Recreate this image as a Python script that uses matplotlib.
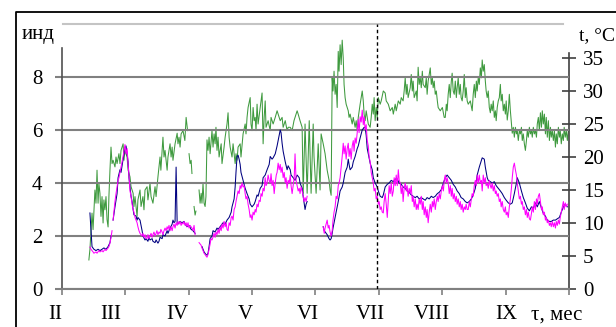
import numpy as np
import matplotlib
matplotlib.use("Agg")
import matplotlib.pyplot as plt
from matplotlib.lines import Line2D
import matplotlib.transforms as mtransforms

plt.rcParams["font.family"] = ["Liberation Serif", "DejaVu Serif"]

# === Data: days counted from 1 Feb, months shown as equal intervals ===
months = ["II", "III", "IV", "V", "VI", "VII", "VIII", "IX"]
month_len = 30.375  # axis spans Feb..Oct as 8 equal steps
n_months = 8
dashed_day = 151.0

# temperature, °C (right axis)
green_a = [(12.9, 4.4), (13.4, 6), (14.4, 11.5), (14.9, 9), (15.8, 15), (16.3, 13), (16.8, 18), (17.3, 13),
           (17.7, 16), (18.2, 14.5), (18.7, 11), (19.2, 14), (19.7, 10), (20.1, 13.5), (20.6, 12), (21.1, 14),
           (21.6, 10.5), (22.1, 9.4), (22.5, 14), (23.0, 18), (23.5, 21.5), (24.0, 19), (24.5, 19.5), (25.4, 18.5),
           (25.9, 20), (26.4, 19), (27.3, 20.5), (27.8, 19), (28.3, 21), (29.3, 22), (29.7, 19.5), (30.2, 21),
           (31.2, 20), (31.7, 18), (32.6, 17), (33.1, 15.5), (34.1, 14.5), (34.5, 12.5), (35.0, 14), (36.0, 11),
           (36.4, 13.5), (37.4, 15), (37.9, 12.5), (38.8, 14), (39.3, 12), (39.8, 15), (40.8, 15.5), (41.2, 13.5),
           (42.2, 16), (42.7, 14), (43.6, 13), (44.6, 15.5), (45.1, 14), (46.0, 17), (47.0, 20), (47.4, 18),
           (48.4, 23), (48.9, 20), (49.4, 21), (50.4, 18), (50.8, 20), (51.8, 22), (52.3, 20), (52.8, 21.5),
           (53.2, 19.5), (54.2, 22), (55.2, 23.6), (55.6, 22), (56.1, 23), (56.6, 21.5), (57.1, 23.5), (58.0, 24),
           (58.9, 22.5), (59.5, 26), (60.2, 24)]
green_b = [(60.9, 20.5), (61.4, 19), (61.9, 19.5), (62.3, 17.5)]
green_c = [(63.3, 12.5), (63.8, 11.2), (64.2, 11.8)]
green_d = [(65.7, 15), (66.2, 13), (66.7, 14.5), (67.1, 13), (67.6, 16), (68.1, 13), (68.6, 12.5), (69.0, 14),
           (69.5, 22.6), (70.0, 21), (70.5, 23), (71.0, 20.5), (71.4, 22), (71.9, 24), (72.4, 21.5), (72.9, 23.5),
           (73.4, 22), (73.8, 24.5), (74.3, 21), (74.8, 23), (75.3, 20), (76.3, 22), (76.7, 19), (77.7, 21.5),
           (78.2, 23), (79.1, 25), (79.6, 26.7), (80.1, 23), (80.6, 21.5), (81.5, 20), (82.0, 22), (83.0, 19),
           (83.4, 20.5), (83.9, 19.5), (84.4, 21.5), (85.4, 22), (85.8, 20), (86.8, 23.5), (87.8, 25), (88.2, 23.5),
           (88.7, 26), (89.2, 27.5), (90.2, 29), (90.6, 25), (91.1, 24), (91.6, 27.5), (92.1, 25.5), (92.6, 26),
           (93.0, 24), (93.5, 28), (94.0, 25), (95.0, 27.5), (95.4, 28.5), (95.9, 29.7), (96.4, 22), (96.9, 26),
           (97.4, 28.5), (97.8, 24.5), (98.8, 25.5), (99.8, 24), (100.2, 26), (101.2, 25), (102.2, 26), (103.1, 27),
           (103.6, 26.5), (104.6, 25.5), (105.5, 26), (106.0, 24.5), (107.0, 25.5), (107.9, 24), (108.4, 24.5),
           (109.4, 24.5), (110.3, 24), (111.2, 25.5), (112.2, 26.5), (112.7, 27), (113.2, 26.5), (114.1, 25.5),
           (115.1, 24.5), (115.6, 14.5), (116.5, 25), (117.5, 14.5), (118.5, 25.5), (119.4, 14.5), (120.4, 25),
           (120.8, 20), (121.8, 14.5), (122.8, 22), (123.7, 15), (124.2, 23.5), (125.2, 22), (126.1, 20.5),
           (127.1, 18), (128.0, 16.5), (128.5, 15), (129.0, 14.2), (129.5, 32), (129.9, 30), (130.4, 33),
           (130.9, 29.5), (131.4, 31), (131.9, 27.5), (132.4, 36), (132.8, 33), (133.3, 37), (133.8, 34),
           (134.3, 37.7), (134.8, 35), (135.2, 31), (135.7, 29), (136.2, 28), (137.2, 27), (137.6, 26),
           (138.1, 26.5), (139.1, 25), (139.6, 26), (140.5, 24.5), (141.0, 25.5), (141.5, 24), (142.0, 26),
           (142.9, 28), (143.9, 30), (144.4, 28.5), (144.8, 26.5), (145.3, 25.5), (145.8, 27), (146.8, 25),
           (147.7, 24.5), (148.2, 26), (148.7, 28), (149.2, 26.5), (149.6, 29), (150.1, 25.5), (150.6, 27.5),
           (151.1, 26), (151.6, 29), (152.5, 28), (153.0, 28.5), (154.0, 30), (154.9, 29.7), (155.4, 28.5),
           (156.4, 28), (157.3, 27), (158.3, 27.5), (158.8, 26.5), (159.7, 28), (160.2, 27), (161.2, 28.5),
           (162.1, 28), (162.6, 29), (163.5, 28.5), (164.0, 30), (164.5, 32), (165.0, 29.5), (165.4, 31),
           (165.9, 29), (166.9, 30.5), (167.4, 32.5), (167.9, 30), (168.3, 31.5), (168.8, 29), (169.8, 30),
           (170.2, 28.5), (170.7, 33.6), (171.2, 31), (171.7, 32), (172.2, 30.5), (172.7, 33), (173.1, 31),
           (174.1, 30.5), (174.6, 32), (175.0, 29.5), (175.5, 31.5), (176.5, 33.5), (177.0, 31), (177.5, 32),
           (177.9, 30.5), (178.4, 31.5), (178.9, 29.5), (179.4, 30), (179.9, 28.5), (180.3, 27.5), (181.3, 27),
           (182.3, 27.5), (183.2, 26), (183.7, 26), (184.2, 28), (184.6, 27), (185.1, 29.5), (185.6, 31),
           (186.1, 29), (186.6, 31.5), (187.0, 32.7), (187.5, 30), (188.0, 29.5), (188.5, 31.5), (189.0, 29),
           (189.4, 30.5), (189.9, 32), (190.4, 29.5), (190.9, 31), (191.3, 29), (191.8, 28.5), (192.3, 30),
           (192.8, 32.5), (193.3, 29), (193.7, 30.5), (194.2, 28.5), (194.7, 28), (195.7, 28.5), (196.6, 27),
           (197.1, 29.5), (197.6, 31), (198.1, 29), (198.6, 31.5), (199.0, 30), (199.5, 32), (200.0, 31),
           (200.5, 33.5), (201.0, 32), (201.4, 34.7), (201.9, 33), (202.4, 34), (202.9, 31.5), (203.3, 30),
           (203.8, 29), (204.3, 30), (204.8, 27.5), (205.3, 26.7), (205.7, 28), (206.2, 27), (206.7, 28.5),
           (207.2, 26), (207.7, 27), (208.1, 25.5), (208.6, 27.5), (209.1, 28.5), (209.6, 29), (210.1, 31),
           (210.5, 28.5), (211.0, 29.5), (211.5, 27), (212.0, 28), (212.5, 26.5), (212.9, 28.5), (213.4, 25.6),
           (213.9, 27), (214.4, 29.5), (214.9, 27), (215.4, 25), (215.8, 23.6), (216.3, 24.5), (216.8, 23),
           (217.3, 24.5), (217.8, 23.5), (218.2, 24), (218.7, 22.5), (219.2, 24), (219.7, 23.5), (220.2, 24.5),
           (220.6, 22.5), (221.1, 23.5), (221.6, 22), (222.1, 21), (222.6, 22.5), (223.0, 24), (223.5, 23),
           (224.0, 24.5), (224.5, 23.5), (225.0, 24), (225.4, 23), (225.9, 24.5), (226.4, 23.5), (226.9, 24),
           (227.4, 23), (227.8, 25), (228.3, 26), (228.8, 24), (229.3, 26.7), (229.8, 24.5), (230.2, 27),
           (230.7, 25), (231.2, 26.5), (231.7, 23.5), (232.1, 26), (232.6, 23), (233.1, 25.5), (233.6, 22.5),
           (234.1, 24.5), (234.5, 23), (235.0, 24), (235.5, 22.5), (236.0, 24), (236.5, 21.5), (236.9, 23.5),
           (237.4, 22), (237.9, 24.5), (238.4, 23), (238.8, 24), (239.3, 22), (239.8, 23.5), (240.3, 22.5),
           (240.7, 24.5), (241.2, 23), (241.7, 24), (242.2, 22.5), (242.7, 24)]

# index, first series (navy, left axis)
navy_a = [(13.4, 2.87), (13.9, 2.2), (14.4, 1.6), (15.3, 1.5), (16.3, 1.45), (17.3, 1.5), (18.2, 1.45),
          (19.2, 1.5), (20.1, 1.55), (21.1, 1.5), (22.1, 1.6), (23.0, 1.75), (23.5, 2.0)]
navy_b = [(24.5, 2.6), (25.4, 3.1), (26.4, 3.6), (26.9, 4.2), (27.8, 4.5), (28.3, 4.4), (29.3, 4.9), (29.7, 5.1),
          (30.2, 5.3), (30.7, 5.4), (31.2, 5.1), (31.7, 4.8), (32.1, 4.2), (32.6, 3.85), (33.1, 3.5), (33.6, 3.3),
          (34.1, 3.0), (34.5, 2.8), (35.5, 2.75), (36.0, 2.6), (36.4, 2.7), (37.4, 2.6), (37.9, 2.4), (38.4, 2.2),
          (38.8, 2.0), (39.8, 1.85), (40.3, 1.9), (41.2, 1.8), (41.7, 1.95), (42.2, 1.85), (43.2, 1.9), (43.6, 1.8),
          (44.6, 1.75), (45.1, 1.85), (46.0, 1.73), (46.5, 1.8), (47.0, 1.95), (48.0, 1.9), (48.4, 2.05),
          (49.4, 2.0), (50.4, 2.2), (50.8, 2.1), (51.8, 2.3), (52.8, 2.45), (53.2, 2.6), (53.7, 2.5), (54.2, 2.55),
          (54.7, 4.6), (55.2, 2.5), (55.6, 2.45), (56.6, 2.55), (57.5, 2.5), (58.5, 2.55), (59.0, 2.45),
          (59.9, 2.35), (60.9, 2.4), (61.9, 2.25), (62.8, 2.2), (63.8, 2.1)]
navy_c = [(67.1, 1.6), (68.1, 1.4), (69.0, 1.3), (69.5, 1.28), (70.0, 1.35), (70.5, 1.6), (71.0, 1.9), (71.9, 2.0),
          (72.4, 2.2), (73.4, 2.15), (74.3, 2.3), (74.8, 2.25), (75.8, 2.35), (76.7, 2.45), (77.2, 2.5),
          (78.2, 2.45), (79.1, 2.6), (80.1, 2.7), (81.1, 2.9), (81.5, 3.1), (82.5, 3.4), (83.0, 3.85), (83.4, 4.4),
          (83.9, 5.0), (84.4, 5.05), (84.9, 4.9), (85.4, 4.7), (85.8, 4.4), (86.8, 4.1), (87.8, 3.8), (88.7, 3.6),
          (89.7, 3.4), (90.2, 3.2), (91.1, 3.1), (92.1, 3.2), (92.6, 3.3), (93.5, 3.55), (94.0, 3.5), (95.0, 3.8),
          (95.9, 3.9), (96.4, 4.2), (97.4, 4.3), (98.3, 4.5), (99.3, 4.7), (99.8, 5.0), (100.7, 4.9), (101.2, 4.95),
          (102.2, 5.1), (103.1, 5.4), (104.1, 5.8), (104.6, 6.0), (105.0, 5.9), (105.5, 5.5), (106.0, 5.2),
          (107.0, 4.8), (107.9, 4.5), (108.4, 4.65), (109.4, 4.5), (109.8, 4.3), (110.8, 4.2), (111.7, 4.1),
          (112.7, 4.3), (113.7, 4.2), (114.1, 4.0), (115.1, 3.8), (115.6, 3.5), (116.5, 3.0), (117.0, 3.2),
          (117.5, 3.3)]
navy_d = [(125.2, 2.35), (125.7, 2.2), (126.6, 2.1), (127.1, 2.05), (128.0, 1.9), (128.5, 1.85), (129.0, 1.9),
          (129.5, 2.1), (129.9, 2.3), (130.9, 2.7), (131.9, 3.1), (132.4, 3.3), (133.3, 3.7), (134.3, 3.85),
          (134.8, 4.0), (135.7, 4.4), (136.7, 4.6), (137.2, 4.9), (137.6, 4.7), (138.1, 4.5), (139.1, 4.6),
          (139.6, 4.8), (140.5, 5.0), (141.5, 5.3), (142.0, 5.4), (142.9, 5.7), (143.9, 6.0), (144.8, 6.1),
          (145.3, 6.1), (145.8, 5.8), (146.3, 5.3), (146.8, 5.1), (147.7, 4.75), (148.7, 4.5), (149.2, 4.2),
          (150.1, 4.0), (151.1, 3.85), (151.6, 3.7), (152.5, 3.5), (153.5, 3.45), (154.0, 3.55), (154.9, 3.85),
          (155.9, 3.95), (156.8, 4.0), (157.8, 4.1), (158.8, 4.05), (159.7, 4.15), (160.7, 4.15), (161.6, 4.0),
          (162.6, 3.95), (163.5, 3.85), (164.5, 3.8), (165.4, 3.7), (166.4, 3.65), (167.4, 3.55), (168.3, 3.5),
          (169.3, 3.45), (170.2, 3.5), (171.2, 3.4), (172.2, 3.45), (173.1, 3.4), (174.1, 3.35), (175.0, 3.45),
          (176.0, 3.4), (177.0, 3.5), (177.9, 3.45), (178.9, 3.5), (179.9, 3.6), (180.8, 3.65), (181.8, 3.75),
          (182.8, 4.0), (183.7, 4.2), (184.6, 4.3), (185.6, 4.2), (186.6, 4.1), (187.5, 3.95), (188.5, 3.85),
          (189.4, 3.7), (190.4, 3.6), (191.3, 3.45), (192.3, 3.4), (193.3, 3.3), (194.2, 3.25), (195.2, 3.3),
          (196.2, 3.4), (197.1, 3.55), (198.1, 3.8), (199.0, 4.3), (200.0, 4.6), (201.0, 4.85), (201.4, 4.95),
          (202.4, 4.9), (202.9, 4.6), (203.8, 4.2), (204.3, 4.1), (205.3, 4.05), (206.2, 4.0), (207.2, 4.05),
          (208.1, 3.9), (209.1, 3.8), (210.1, 3.7), (211.0, 3.6), (212.0, 3.45), (212.9, 3.35), (213.9, 3.25),
          (214.9, 3.2), (215.8, 3.25), (216.8, 3.6), (217.8, 4.0), (218.2, 4.2), (219.2, 4.0), (220.2, 3.7),
          (221.1, 3.45), (222.1, 3.25), (223.0, 3.05), (224.0, 2.95), (225.0, 3.1), (225.9, 3.05), (226.9, 3.25),
          (227.8, 3.1), (228.8, 3.3), (229.8, 3.05), (230.7, 2.85), (231.7, 2.75), (232.6, 2.6), (233.6, 2.55),
          (234.5, 2.55), (235.5, 2.6), (236.5, 2.6), (237.4, 2.65), (238.4, 2.7), (239.3, 2.9), (240.3, 3.1),
          (241.2, 3.2), (242.2, 3.1)]

# index, second series (magenta, left axis)
magenta_a = [(13.4, 1.58), (13.9, 1.5), (14.9, 1.4), (15.3, 1.35), (16.3, 1.4), (16.8, 1.35), (17.7, 1.45),
             (18.2, 1.4), (19.2, 1.45), (19.7, 1.4), (20.6, 1.5), (21.1, 1.45), (22.1, 1.55), (22.5, 1.6),
             (23.0, 1.73), (23.5, 1.95), (24.0, 2.2)]
magenta_b = [(24.5, 2.6), (25.0, 3.0), (25.4, 3.3), (25.9, 3.6), (26.4, 3.85), (26.9, 4.1), (27.3, 4.2),
             (27.8, 4.4), (28.3, 4.6), (28.8, 4.8), (29.3, 5.0), (29.7, 5.2), (30.2, 5.45), (30.7, 5.1),
             (31.2, 5.3), (31.7, 4.7), (32.1, 4.3), (32.6, 3.7), (33.1, 3.5), (33.6, 3.2), (34.1, 3.0), (34.5, 2.9),
             (35.0, 2.7), (35.5, 2.6), (36.0, 2.5), (36.4, 2.35), (36.9, 2.2), (37.4, 2.1), (37.9, 2.05),
             (38.4, 2.0), (38.8, 2.1), (39.3, 1.95), (39.8, 2.05), (40.3, 1.9), (40.8, 1.92), (41.2, 2.05),
             (41.7, 1.9), (42.2, 2.0), (42.7, 2.1), (43.2, 1.95), (43.6, 2.05), (44.1, 2.15), (44.6, 2.0),
             (45.1, 2.1), (45.5, 2.2), (46.0, 2.05), (46.5, 2.15), (47.0, 2.1), (47.4, 2.25), (48.0, 2.15),
             (48.4, 2.05), (48.9, 2.2), (49.4, 2.3), (49.9, 2.2), (50.4, 2.35), (50.8, 2.25), (51.3, 2.4),
             (51.8, 2.2), (52.3, 2.35), (52.8, 2.2), (53.2, 2.35), (53.7, 2.45), (54.2, 2.3), (54.7, 2.5),
             (55.2, 2.4), (55.6, 2.55), (56.1, 2.45), (56.6, 2.55), (57.1, 2.4), (57.5, 2.5), (58.0, 2.45),
             (58.5, 2.55), (59.0, 2.4), (59.5, 2.5), (59.9, 2.35), (60.4, 2.5), (60.9, 2.3), (61.4, 2.4),
             (62.3, 2.3), (62.8, 2.2), (63.3, 2.4), (63.8, 2.05)]
magenta_c = [(65.7, 1.75), (66.2, 1.7), (66.7, 1.65), (67.1, 1.55), (67.6, 1.45), (68.1, 1.35), (68.6, 1.3),
             (69.0, 1.25), (69.5, 1.2), (70.0, 1.3), (70.5, 1.5), (71.0, 1.7), (71.4, 1.9), (71.9, 1.85),
             (72.4, 1.96), (72.9, 2.1), (73.4, 1.95), (73.8, 2.15), (74.3, 2.05), (74.8, 2.25), (75.3, 2.1),
             (75.8, 2.35), (76.3, 2.2), (76.7, 2.45), (77.2, 2.3), (77.7, 2.55), (78.2, 2.35), (78.7, 2.5),
             (79.1, 2.25), (79.6, 2.2), (80.1, 2.5), (80.6, 2.4), (81.1, 2.7), (81.5, 2.75), (82.0, 2.6),
             (82.5, 3.0), (83.0, 3.1), (83.4, 3.3), (83.9, 3.5), (84.4, 3.7), (84.9, 3.6), (85.4, 3.9), (85.8, 3.8),
             (86.3, 4.0), (86.8, 3.85), (87.3, 3.9), (87.8, 3.6), (88.2, 3.4), (88.7, 3.5), (89.2, 3.2),
             (89.7, 3.0), (90.2, 2.7), (90.6, 2.8), (91.1, 2.6), (91.6, 2.9), (92.1, 2.8), (92.6, 3.0), (93.0, 2.9),
             (93.5, 3.2), (94.0, 3.1), (94.5, 3.35), (95.0, 3.3), (95.4, 3.6), (95.9, 3.5), (96.4, 3.8),
             (96.9, 3.7), (97.4, 4.2), (97.8, 3.9), (98.3, 4.0), (98.8, 4.3), (99.3, 4.1), (99.8, 4.0),
             (100.2, 4.35), (100.7, 3.9), (101.2, 4.1), (101.7, 3.6), (102.2, 4.0), (102.7, 4.3), (103.1, 4.4),
             (103.6, 4.75), (104.1, 4.5), (104.6, 4.7), (105.0, 4.4), (105.5, 4.6), (106.0, 4.2), (106.5, 4.4),
             (107.0, 4.0), (107.4, 4.2), (107.9, 3.8), (108.4, 4.1), (108.9, 4.0), (109.4, 4.3), (109.8, 3.9),
             (110.3, 3.6), (110.8, 3.9), (111.3, 4.2), (111.7, 5.1), (112.2, 4.1), (112.7, 3.9), (113.2, 3.7),
             (113.7, 3.8), (114.1, 3.6), (114.6, 3.85), (115.1, 3.7), (115.6, 3.5), (116.0, 3.3), (116.5, 3.45),
             (117.0, 3.3), (117.5, 3.5)]
magenta_d = [(125.2, 2.35), (125.7, 2.1), (126.1, 2.3), (126.6, 2.45), (127.1, 2.6), (127.6, 2.3), (128.0, 2.4),
             (128.5, 2.15), (129.0, 2.0), (129.5, 2.2), (129.9, 2.6), (130.4, 2.9), (130.9, 3.1), (131.4, 3.5),
             (131.9, 3.4), (132.4, 3.9), (132.8, 4.0), (133.3, 4.2), (133.8, 4.6), (134.3, 5.0), (134.8, 5.5),
             (135.2, 5.1), (135.7, 5.4), (136.2, 4.9), (136.7, 5.3), (137.2, 5.5), (137.6, 5.0), (138.1, 5.3),
             (138.6, 4.9), (139.1, 5.4), (139.6, 5.6), (140.0, 5.2), (140.5, 5.7), (141.0, 5.5), (141.5, 5.9),
             (142.0, 6.4), (142.4, 5.9), (142.9, 6.5), (143.4, 6.3), (143.9, 6.75), (144.4, 6.2), (144.8, 6.5),
             (145.3, 6.0), (145.8, 6.2), (146.3, 5.6), (146.8, 5.4), (147.2, 5.0), (147.7, 4.8), (148.2, 4.4),
             (148.7, 4.2), (149.2, 4.0), (149.6, 3.7), (150.1, 3.8), (150.6, 3.4), (151.1, 3.5), (151.6, 3.2),
             (152.0, 3.3), (152.5, 3.0), (153.0, 3.1), (153.5, 2.9), (154.0, 2.87), (154.4, 3.3), (154.9, 3.6),
             (155.4, 3.2), (155.9, 2.7), (156.4, 3.4), (156.8, 3.9), (157.3, 3.6), (157.8, 4.0), (158.3, 3.5),
             (158.8, 3.7), (159.2, 4.2), (159.7, 3.9), (160.2, 4.3), (160.7, 3.9), (161.2, 4.5), (161.6, 4.1),
             (162.1, 4.0), (162.6, 3.6), (163.1, 3.9), (163.5, 3.3), (164.0, 3.8), (164.5, 4.0), (165.0, 3.7),
             (165.4, 3.9), (165.9, 3.5), (166.4, 3.8), (166.9, 3.6), (167.4, 3.9), (167.9, 3.3), (168.3, 3.5),
             (168.8, 3.1), (169.3, 3.4), (169.8, 3.0), (170.2, 3.2), (170.7, 3.0), (171.2, 3.4), (171.7, 3.2),
             (172.2, 3.5), (172.7, 3.0), (173.1, 3.3), (173.6, 2.8), (174.1, 3.1), (174.6, 2.7), (175.0, 3.0),
             (175.5, 2.5), (176.0, 2.9), (176.5, 3.2), (177.0, 2.9), (177.5, 3.3), (177.9, 3.1), (178.4, 3.4),
             (178.9, 3.0), (179.4, 3.3), (179.9, 3.5), (180.3, 3.3), (180.8, 3.6), (181.3, 3.4), (181.8, 3.7),
             (182.3, 3.9), (182.8, 3.7), (183.2, 4.1), (183.7, 4.3), (184.2, 4.0), (184.6, 4.2), (185.1, 4.0),
             (185.6, 3.6), (186.1, 3.9), (186.6, 3.5), (187.0, 3.8), (187.5, 3.4), (188.0, 3.6), (188.5, 3.3),
             (189.0, 3.5), (189.4, 3.2), (189.9, 3.4), (190.4, 3.1), (190.9, 3.3), (191.3, 3.0), (191.8, 3.2),
             (192.3, 2.9), (192.8, 3.1), (193.3, 3.0), (193.7, 3.2), (194.2, 3.0), (194.7, 3.0), (195.2, 3.3),
             (195.7, 3.1), (196.2, 3.4), (196.6, 3.6), (197.1, 3.5), (197.6, 3.9), (198.1, 4.1), (198.6, 3.9),
             (199.0, 4.3), (199.5, 4.0), (200.0, 4.3), (200.5, 4.0), (201.0, 4.1), (201.4, 3.7), (201.9, 4.3),
             (202.4, 4.0), (202.9, 4.2), (203.3, 3.9), (203.8, 4.0), (204.3, 3.8), (204.8, 4.1), (205.3, 3.9),
             (205.7, 3.8), (206.2, 4.0), (206.7, 3.7), (207.2, 3.9), (207.7, 3.6), (208.1, 3.7), (208.6, 3.5),
             (209.1, 3.6), (209.6, 3.3), (210.1, 3.4), (210.5, 3.1), (211.0, 3.3), (211.5, 3.0), (212.0, 2.9),
             (212.5, 3.1), (212.9, 2.8), (213.4, 2.9), (213.9, 2.7), (214.4, 3.1), (214.9, 3.4), (215.4, 3.8),
             (215.8, 4.2), (216.3, 4.6), (216.8, 4.75), (217.3, 4.5), (217.8, 4.3), (218.2, 4.0), (218.7, 3.7),
             (219.2, 3.4), (219.7, 3.5), (220.2, 3.2), (220.6, 3.3), (221.1, 3.0), (221.6, 3.1), (222.1, 2.8),
             (222.6, 3.0), (223.0, 2.7), (223.5, 2.9), (224.0, 2.65), (224.5, 2.6), (225.0, 2.85), (225.4, 3.1),
             (225.9, 2.9), (226.4, 3.3), (226.9, 3.0), (227.4, 3.4), (227.8, 3.2), (228.3, 3.5), (228.8, 3.6),
             (229.3, 3.3), (229.8, 3.0), (230.2, 3.1), (230.7, 2.8), (231.2, 2.9), (231.7, 2.6), (232.1, 2.7),
             (232.6, 2.5), (233.1, 2.6), (233.6, 2.4), (234.1, 2.5), (234.5, 2.35), (235.0, 2.55), (235.5, 2.35),
             (236.0, 2.5), (236.5, 2.3), (236.9, 2.55), (237.4, 2.4), (237.9, 2.6), (238.4, 2.45), (238.8, 2.7),
             (239.3, 2.9), (239.8, 3.1), (240.3, 3.3), (240.7, 3.0), (241.2, 3.25), (241.7, 3.1), (242.2, 3.2)]


def xy(*segments):
    """join segments into x/y arrays with NaN breaks between them"""
    xs, ys = [], []
    for seg in segments:
        sx, sy = zip(*seg)
        xs += list(sx) + [np.nan]
        ys += list(sy) + [np.nan]
    return np.array(xs), np.array(ys)


GRID = "#808080"
SERIF = 15

fig = plt.figure(figsize=(6.16, 3.27), dpi=100)
ax = fig.add_axes([0.1006, 0.1162, 0.8231, 0.8104])
ax2 = ax.twinx()
ax.set_zorder(ax2.get_zorder() + 1)
ax.patch.set_visible(False)

# outer frame (only left and top edges visible)
fig.add_artist(Line2D([16 / 616, 16 / 616, 1.0], [0.0, 1 - 12 / 327, 1 - 12 / 327],
                      transform=fig.transFigure, color="black", lw=1.3))

# temperature on the right axis
gx, gy = xy(green_a, green_b, green_c, green_d)
ax2.plot(gx, gy, color="#3f9a3f", lw=0.75)

# indices on the left axis
nx, ny = xy(navy_a, navy_b, navy_c, navy_d)
mx, my = xy(magenta_a, magenta_b, magenta_c, magenta_d)
ax.plot(nx, ny, color="#000080", lw=0.75, zorder=3)
ax.plot(mx, my, color="#ff00ff", lw=0.75, zorder=4)

ax.axvline(dashed_day, color="black", lw=1.0, ls=(0, (2.5, 2)), zorder=5)

x_max = month_len * n_months
ax.set_xlim(0, x_max)
ax.set_ylim(0, 10)
ax2.set_ylim(0, 40.15)

# left axis
ax.set_yticks([0, 2, 4, 6, 8])
ax.yaxis.grid(True, color=GRID, lw=1.5, zorder=0)
ax.tick_params(axis="y", direction="out", length=5, width=1.5, color=GRID, pad=9, labelsize=SERIF)
ax.spines["left"].set_bounds(0, 9.1)
ax.spines["left"].set_color("#505050")
ax.spines["left"].set_linewidth(1.2)
ax.spines["bottom"].set_color(GRID)
ax.spines["bottom"].set_linewidth(1.5)
ax.spines["top"].set_color("#c4c4c4")
ax.spines["top"].set_linewidth(1.5)
ax.spines["top"].set_bounds(0.5, 240.3)
ax.spines["right"].set_visible(False)

# month ticks and labels
ax.set_xticks([month_len * k for k in range(n_months + 1)])
ax.set_xticklabels([])
ax.tick_params(axis="x", direction="out", length=4, width=1.2, color=GRID)
label_days = [-3.4, 23.5, 55.1, 87.7, 117.9, 147.6, 177.3, 212.8]
trans = mtransforms.blended_transform_factory(ax.transData, ax.transAxes)
for name, d in zip(months, label_days):
    ax.text(d, -0.098, name, transform=trans, ha="center", va="center", fontsize=SERIF)
ax.text(237.2, -0.098, "τ, мес", transform=trans, ha="center", va="center", fontsize=SERIF)

# right axis
for side in ["left", "top", "bottom"]:
    ax2.spines[side].set_visible(False)
ax2.spines["right"].set_bounds(0, 35.8)
ax2.spines["right"].set_color("#404040")
ax2.spines["right"].set_linewidth(1.2)
ax2.set_yticks(range(0, 40, 5))
ax2.tick_params(axis="y", direction="inout", length=10, width=1.2, color="#404040", pad=5, labelsize=SERIF)

fig.text(38 / 616, 1 - 34 / 327, "инд", ha="center", va="center", fontsize=SERIF)
fig.text(579 / 616, 1 - 36 / 327, "t, °C", ha="left", va="center", fontsize=14)

fig.savefig("out.png", dpi=100)
